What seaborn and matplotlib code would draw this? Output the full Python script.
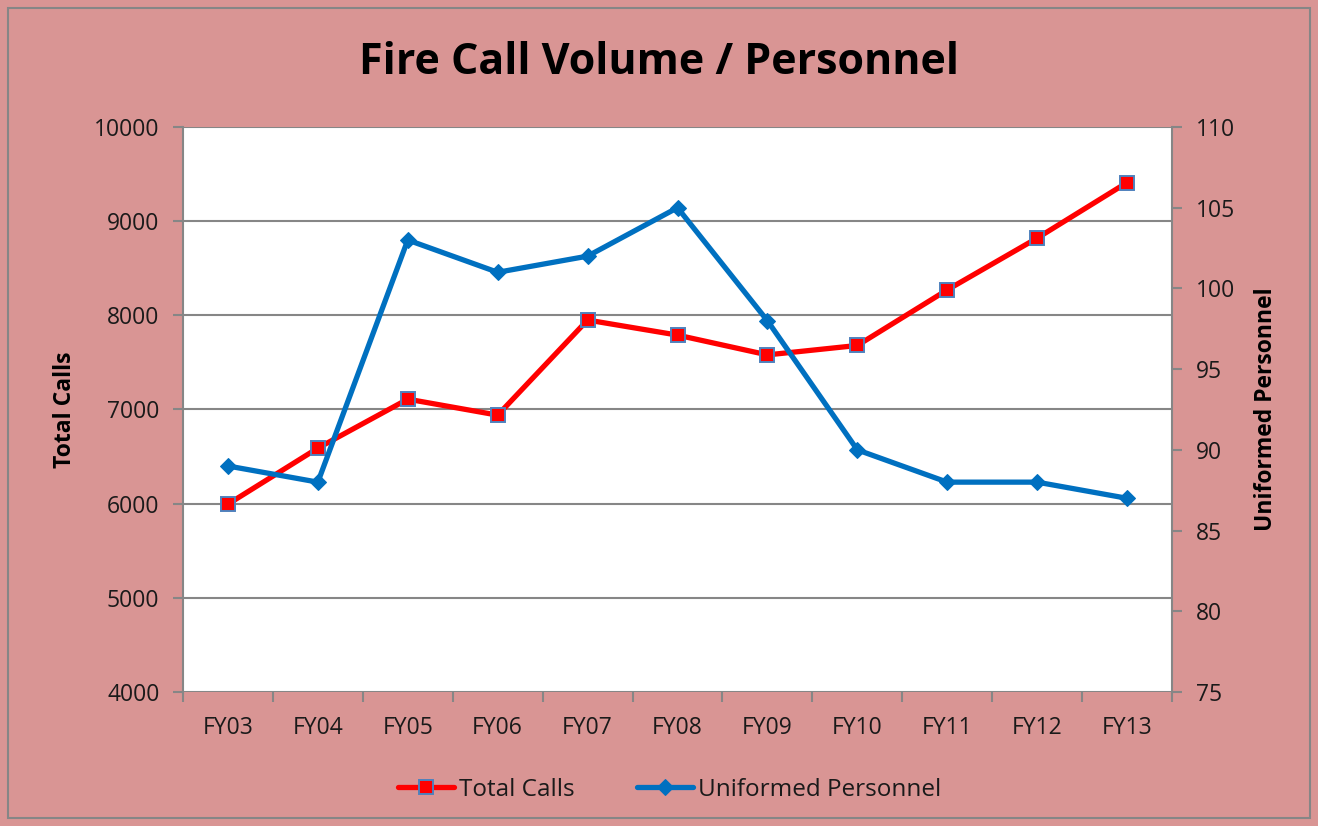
import matplotlib
matplotlib.use("Agg")
import matplotlib.pyplot as plt
import seaborn as sns
import pandas as pd
from matplotlib.patches import Rectangle
from matplotlib.ticker import FixedLocator

# data
years = ["FY03", "FY04", "FY05", "FY06", "FY07", "FY08", "FY09", "FY10", "FY11", "FY12", "FY13"]
total_calls = [5995, 6590, 7110, 6940, 7950, 7790, 7580, 7680, 8270, 8820, 9410]
personnel = [89, 88, 103, 101, 102, 105, 98, 90, 88, 88, 87]

BG = "#D99594"
RED = "#FF0000"
BLUE = "#0070C0"
GRID = "#868686"
TXT = "#1a1a1a"

sns.set_theme(style="white")
plt.rcParams["font.family"] = ["Open Sans", "DejaVu Sans"]

df = pd.DataFrame({"year": years, "calls": total_calls, "personnel": personnel})
df["pos"] = range(len(years))

fig = plt.figure(figsize=(13.18, 8.26), dpi=100, facecolor=BG)
fig.patches.append(Rectangle((8 / 1318, 8 / 826), 1302 / 1318, 810 / 826,
                             transform=fig.transFigure, fill=False,
                             edgecolor=GRID, linewidth=1.5))
ax = fig.add_axes([183 / 1318, 1 - 692 / 826, (1172 - 183) / 1318, (692 - 127) / 826])
ax.set_facecolor("white")
ax2 = ax.twinx()

sns.lineplot(data=df, x="pos", y="calls", ax=ax, color=RED, linewidth=3.8,
             marker="s", markersize=10.5, markerfacecolor=RED,
             markeredgecolor="#4F81BD", markeredgewidth=1.4, label="Total Calls",
             legend=False, zorder=3)
sns.lineplot(data=df, x="pos", y="personnel", ax=ax2, color=BLUE, linewidth=3.8,
             marker="D", markersize=8.5, markerfacecolor=BLUE,
             markeredgecolor=BLUE, label="Uniformed Personnel",
             legend=False, zorder=3)

ax.set_xlim(-0.5, len(years) - 0.5)
ax.set_ylim(4000, 10000)
ax2.set_ylim(75, 110)
ax.set_yticks(range(4000, 10001, 1000))
ax2.set_yticks(range(75, 111, 5))
ax.yaxis.grid(True, color=GRID, linewidth=1.5)
ax.set_axisbelow(True)

ax.set_xticks(df["pos"])
ax.set_xticklabels(years)
ax.xaxis.set_minor_locator(FixedLocator([i - 0.5 for i in range(len(years) + 1)]))
ax.tick_params(axis="x", which="major", length=0, pad=17, labelsize=16.5, labelcolor=TXT)
ax.tick_params(axis="x", which="minor", bottom=True, length=7, width=1.5, color=GRID)
ax.tick_params(axis="y", left=True, length=7, width=1.5, color=GRID, labelsize=16.5,
               pad=10, labelcolor=TXT)
ax2.tick_params(axis="y", right=True, length=7, width=1.5, color=GRID, labelsize=16.5,
                pad=10, labelcolor=TXT)

for a in (ax, ax2):
    for s in a.spines.values():
        s.set_visible(False)
ax.spines["left"].set_visible(True)
ax.spines["left"].set_color(GRID)
ax.spines["left"].set_linewidth(1.5)
ax2.spines["right"].set_visible(True)
ax2.spines["right"].set_color(GRID)
ax2.spines["right"].set_linewidth(1.5)

ax.set_xlabel("")
ax.set_ylabel("Total Calls", fontsize=16.5, fontweight="bold", labelpad=12, color="black")
ax2.set_ylabel("Uniformed Personnel", fontsize=16.5, fontweight="bold", rotation=90,
               labelpad=14, color="black")

fig.text(0.5, 1 - 63 / 826, "Fire Call Volume / Personnel", ha="center", va="center",
         fontsize=31, fontweight="bold", color="black")

h1, l1 = ax.get_legend_handles_labels()
h2, l2 = ax2.get_legend_handles_labels()
fig.legend(h1 + h2, l1 + l2, loc="center", bbox_to_anchor=(0.508, 1 - 790 / 826),
           ncol=2, frameon=False, fontsize=17.5, handlelength=2.3, columnspacing=2.6,
           handletextpad=0.2, labelcolor=TXT)

fig.savefig("out.png", dpi=100, facecolor=BG)
